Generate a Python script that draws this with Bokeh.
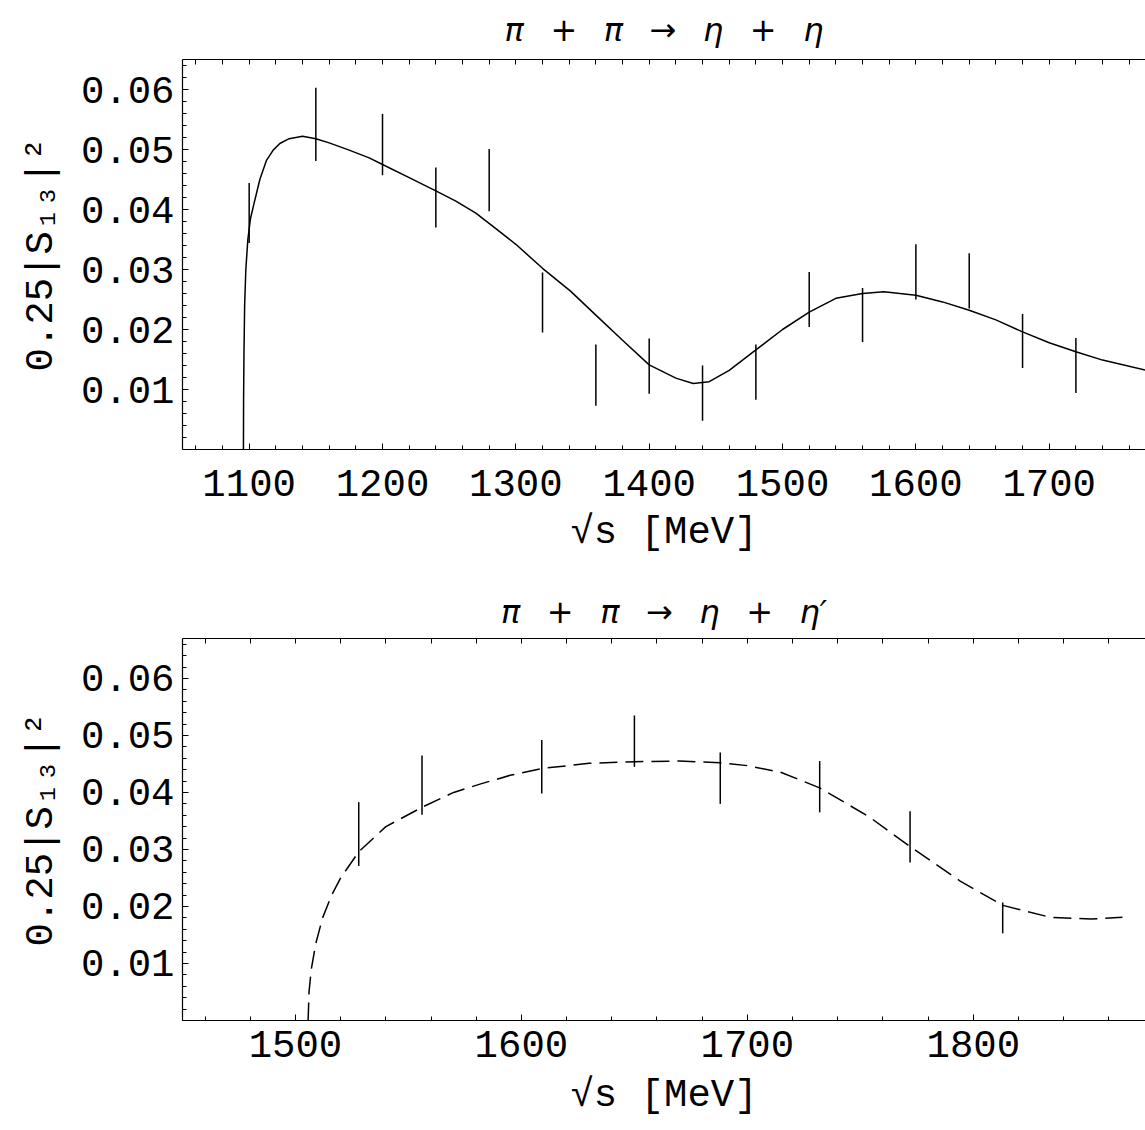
from bokeh.plotting import figure
from bokeh.models import (Range1d, LinearAxis, FixedTicker, SingleIntervalTicker,
                          PrintfTickFormatter)
from bokeh.layouts import column
from bokeh.embed import file_html
from bokeh.resources import INLINE

# ---------------- data: pi pi -> eta eta ----------------
ee_sqrt_s = [1100, 1150, 1200, 1240, 1280, 1320, 1360, 1400, 1440, 1480,
             1520, 1560, 1600, 1640, 1680, 1720]
ee_val = [0.0394, 0.0542, 0.0508, 0.0420, 0.0449, 0.0245, 0.0124, 0.0139,
          0.0094, 0.0129, 0.0250, 0.0224, 0.0296, 0.0281, 0.0181, 0.0140]
ee_err = [0.0050, 0.0061, 0.0051, 0.0050, 0.0052, 0.0050, 0.0051, 0.0046,
          0.0046, 0.0046, 0.0046, 0.0045, 0.0046, 0.0046, 0.0045, 0.0046]
ee_fit_x = [1095.7, 1095.8, 1096.1, 1096.6, 1097.5, 1099, 1101, 1104.5, 1108,
            1113, 1118, 1123, 1130, 1140, 1150, 1160, 1175, 1190, 1200, 1220,
            1240, 1255, 1270, 1285, 1300, 1320, 1341, 1360, 1380, 1400, 1420,
            1433, 1445, 1460, 1480, 1500, 1520, 1540, 1560, 1576, 1600, 1620,
            1640, 1660, 1680, 1700, 1720, 1740, 1773]
ee_fit_y = [0.0, 0.008, 0.016, 0.024, 0.030, 0.035, 0.0385, 0.0418, 0.0450,
            0.0482, 0.0499, 0.0510, 0.0518, 0.0522, 0.0518, 0.0511, 0.0499,
            0.0486, 0.0475, 0.0453, 0.0431, 0.0414, 0.0394, 0.0368, 0.0342,
            0.0302, 0.0264, 0.0224, 0.0182, 0.0141, 0.0119, 0.0110, 0.0113,
            0.0132, 0.0166, 0.0200, 0.0229, 0.0252, 0.0260, 0.0263, 0.0257,
            0.0246, 0.0232, 0.0216, 0.0196, 0.0178, 0.0163, 0.0149, 0.0132]

# ---------------- data: pi pi -> eta eta' ----------------
eep_sqrt_s = [1528, 1556, 1609, 1650, 1688, 1732, 1772, 1813]
eep_val = [0.0327, 0.0413, 0.0445, 0.0490, 0.0425, 0.0410, 0.0322, 0.0180]
eep_err = [0.0056, 0.0052, 0.0047, 0.0045, 0.0045, 0.0045, 0.0045, 0.0027]
eep_fit_x = [1505.6, 1506, 1507, 1509, 1512, 1516, 1520, 1528, 1540, 1556,
             1570, 1582, 1595, 1609, 1630, 1650, 1670, 1688, 1700, 1715, 1732,
             1754, 1772, 1794, 1813, 1834, 1852, 1866]
eep_fit_y = [0.0, 0.005, 0.009, 0.0135, 0.018, 0.022, 0.025, 0.0296, 0.0340,
             0.0374, 0.0400, 0.0415, 0.0430, 0.0442, 0.0451, 0.0454, 0.0455,
             0.0452, 0.0447, 0.0435, 0.0408, 0.0357, 0.0305, 0.0245, 0.0202,
             0.0181, 0.0178, 0.0181]

y_major = [0.01, 0.02, 0.03, 0.04, 0.05, 0.06]
y_minor = [round(0.002 * i, 3) for i in range(0, 34)]

GAP = "\u2002\u2004"
title_top = GAP.join(["π", "+", "π", "→", "η", "+", "η"])
title_bot = GAP.join(["π", "+", "π", "→", "η", "+", "η\u2032"])
x_label = "√s [MeV]"
y_label = "0.25|S₁₃|²"

MONO = "Liberation Mono"


def style_axis(ax):
    ax.axis_line_color = "black"
    ax.axis_line_width = 1.2
    ax.major_tick_line_color = "black"
    ax.minor_tick_line_color = "black"
    ax.major_tick_in = 6
    ax.major_tick_out = 0
    ax.minor_tick_in = 4
    ax.minor_tick_out = 0
    ax.major_label_text_font = MONO
    ax.major_label_text_font_size = "39px"
    ax.major_label_text_color = "black"
    ax.axis_label_text_font = MONO
    ax.axis_label_text_font_size = "39px"
    ax.axis_label_text_font_style = "normal"
    ax.axis_label_text_color = "black"


def make_panel(title, xr, yr, height, top_border, bottom_border,
               lab_standoff, axlab_standoff, title_standoff):
    p = figure(width=1145, height=height, x_range=Range1d(*xr), y_range=Range1d(*yr),
               output_backend="svg", toolbar_location=None,
               x_axis_location=None, y_axis_location=None,
               min_border_left=182, min_border_right=0,
               min_border_top=top_border, min_border_bottom=bottom_border,
               outline_line_color=None)
    for g in p.grid:
        g.visible = False
    p.title.text = title
    p.title.align = "center"
    p.title.vertical_align = "top"
    p.title.text_font = "DejaVu Sans"
    p.title.text_font_style = "italic"
    p.title.text_font_size = "32px"
    p.title.text_color = "black"
    p.title.standoff = title_standoff

    xb = LinearAxis(ticker=SingleIntervalTicker(interval=100, num_minor_ticks=5),
                    axis_label=x_label, major_label_standoff=lab_standoff,
                    axis_label_standoff=axlab_standoff)
    style_axis(xb)
    p.add_layout(xb, "below")

    # top frame edge: ticks only (every 20 MeV), no labels
    top_ticks = list(range(int(xr[0]) + 10, int(xr[1]) + 1, 20))
    xt = LinearAxis(ticker=FixedTicker(ticks=[], minor_ticks=top_ticks),
                    major_label_standoff=0, axis_label_standoff=0)
    style_axis(xt)
    xt.minor_tick_in = 5
    p.add_layout(xt, "above")

    yl = LinearAxis(ticker=FixedTicker(ticks=y_major, minor_ticks=y_minor),
                    formatter=PrintfTickFormatter(format="%.2f"),
                    axis_label=y_label, major_label_standoff=8, axis_label_standoff=14)
    style_axis(yl)
    p.add_layout(yl, "left")
    return p


p1 = make_panel(title_top, (1050, 1772.2), (0, 0.065), 577, 59, 128, 20, 12, 18)
p1.line(ee_fit_x, ee_fit_y, line_color="black", line_width=1.5)
p1.segment(x0=ee_sqrt_s, x1=ee_sqrt_s,
           y0=[v - e for v, e in zip(ee_val, ee_err)],
           y1=[v + e for v, e in zip(ee_val, ee_err)],
           line_color="black", line_width=1.5)

p2 = make_panel(title_bot, (1450, 1876.2), (0, 0.067), 543, 61, 92, 10, 14, 12)
p2.line(eep_fit_x, eep_fit_y, line_color="black", line_width=1.5, line_dash="18 8")
p2.segment(x0=eep_sqrt_s, x1=eep_sqrt_s,
           y0=[v - e for v, e in zip(eep_val, eep_err)],
           y1=[v + e for v, e in zip(eep_val, eep_err)],
           line_color="black", line_width=1.5)

layout = column(p1, p2, spacing=0)
open("out.html", "w").write(file_html(layout, INLINE))
